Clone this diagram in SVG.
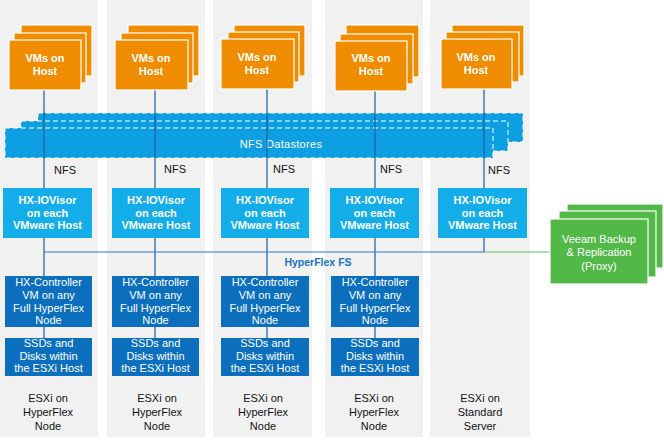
<svg xmlns="http://www.w3.org/2000/svg" width="664" height="440" viewBox="0 0 664 440">
<style>
.col{fill:#f1f1f1}
.vm{fill:#f08c00;stroke:#fff;stroke-width:1.2}
.ds{fill:#0d9fe2;stroke:#fff;stroke-width:1;stroke-dasharray:5 3}
.iov{fill:#13ade9}
.ctl{fill:#0c6fbe}
.vb{fill:#52b848;stroke:#fff;stroke-width:1.2}
.wb{font-family:"Liberation Sans",Arial,sans-serif;font-size:11px;font-weight:bold;fill:#fff;text-anchor:middle}
.wr{font-family:"Liberation Sans",Arial,sans-serif;font-size:11px;fill:#fff;text-anchor:middle}
.bk{font-family:"Liberation Sans",Arial,sans-serif;font-size:11px;fill:#111;text-anchor:middle}
.nfs{font-family:"Liberation Sans",Arial,sans-serif;font-size:11px;fill:#111}
.v{stroke:#1b5e9e;stroke-width:1.2;fill:none}
</style>
<rect width="664" height="440" fill="#fff"/>
<g id="columns">
<rect class="col" x="0" y="0" width="98" height="437"/>
<rect class="col" x="107" y="0" width="98" height="437"/>
<rect class="col" x="213" y="0" width="99" height="437"/>
<rect class="col" x="325" y="0" width="98" height="437"/>
<rect class="col" x="430" y="0" width="100" height="437"/>
</g>
<g id="datastores">
<rect class="ds" x="38" y="113" width="485" height="29"/>
<rect class="ds" x="21" y="121" width="487" height="30"/>
<rect class="ds" x="5" y="128" width="488" height="30"/>
<text x="281" y="148" class="wr" font-size="10.5" style="letter-spacing:0.3px">NFS  Datastores</text>
</g>
<g id="connectors">
<line class="v" x1="44" y1="90" x2="44" y2="188"/>
<line class="v" x1="155" y1="90" x2="155" y2="188"/>
<line class="v" x1="267" y1="89" x2="267" y2="188"/>
<line class="v" x1="375" y1="90" x2="375" y2="188"/>
<line class="v" x1="484" y1="89" x2="484" y2="188"/>
<line class="v" x1="44" y1="238" x2="44" y2="338"/>
<line class="v" x1="155" y1="238" x2="155" y2="338"/>
<line class="v" x1="267" y1="238" x2="267" y2="338"/>
<line class="v" x1="375" y1="238" x2="375" y2="338"/>
<line class="v" x1="484" y1="238" x2="484" y2="252"/>
<line x1="44" y1="252" x2="484" y2="252" stroke="#2b7fd4" stroke-width="1.2"/>
<line x1="484" y1="252" x2="550" y2="252" stroke="#5bbf55" stroke-width="1.2"/>
<text class="nfs" x="54" y="174">NFS</text>
<text class="nfs" x="164" y="173">NFS</text>
<text class="nfs" x="273" y="173">NFS</text>
<text class="nfs" x="380" y="173">NFS</text>
<text class="nfs" x="488" y="174">NFS</text>
<text x="318" y="266" font-family="'Liberation Sans',Arial,sans-serif" font-size="10.5" font-weight="bold" fill="#1b72c0" text-anchor="middle">HyperFlex FS</text>
</g>
<g id="vm1">
<rect class="vm" x="21" y="25" width="71" height="51"/>
<rect class="vm" x="14" y="33" width="72" height="50"/>
<rect class="vm" x="9" y="40" width="72" height="50"/>
<text class="wb" x="45" y="62">VMs on</text><text class="wb" x="45" y="75">Host</text>
</g>
<g id="vm2">
<rect class="vm" x="128" y="25" width="71" height="51"/>
<rect class="vm" x="121" y="33" width="72" height="50"/>
<rect class="vm" x="115" y="40" width="73" height="50"/>
<text class="wb" x="151" y="62">VMs on</text><text class="wb" x="151" y="75">Host</text>
</g>
<g id="vm3">
<rect class="vm" x="234" y="25" width="71" height="51"/>
<rect class="vm" x="228" y="32" width="71" height="50"/>
<rect class="vm" x="221" y="39" width="73" height="50"/>
<text class="wb" x="257" y="61">VMs on</text><text class="wb" x="257" y="74">Host</text>
</g>
<g id="vm4">
<rect class="vm" x="346" y="25" width="73" height="52"/>
<rect class="vm" x="340" y="34" width="73" height="50"/>
<rect class="vm" x="335" y="41" width="72" height="50"/>
<text class="wb" x="371" y="62">VMs on</text><text class="wb" x="371" y="75">Host</text>
</g>
<g id="vm5">
<rect class="vm" x="452" y="25" width="72" height="51"/>
<rect class="vm" x="446" y="32" width="73" height="50"/>
<rect class="vm" x="441" y="39" width="71" height="50"/>
<text class="wb" x="476" y="61">VMs on</text><text class="wb" x="476" y="74">Host</text>
</g>
<g id="iov1"><rect class="iov" x="3" y="188" width="89" height="50"/>
<text class="wb" x="47.5" y="204">HX-IOVisor</text><text class="wb" x="47.5" y="216.5">on each</text><text class="wb" x="47.5" y="229">VMware Host</text></g>
<g id="iov2"><rect class="iov" x="112" y="188" width="88" height="50"/>
<text class="wb" x="156" y="204">HX-IOVisor</text><text class="wb" x="156" y="216.5">on each</text><text class="wb" x="156" y="229">VMware Host</text></g>
<g id="iov3"><rect class="iov" x="221" y="188" width="88" height="50"/>
<text class="wb" x="265" y="204">HX-IOVisor</text><text class="wb" x="265" y="216.5">on each</text><text class="wb" x="265" y="229">VMware Host</text></g>
<g id="iov4"><rect class="iov" x="330" y="188" width="89" height="50"/>
<text class="wb" x="374.5" y="204">HX-IOVisor</text><text class="wb" x="374.5" y="216.5">on each</text><text class="wb" x="374.5" y="229">VMware Host</text></g>
<g id="iov5"><rect class="iov" x="438" y="188" width="89" height="50"/>
<text class="wb" x="482.5" y="204">HX-IOVisor</text><text class="wb" x="482.5" y="216.5">on each</text><text class="wb" x="482.5" y="229">VMware Host</text></g>
<g id="ctl1"><rect class="ctl" x="5" y="276" width="87" height="51"/>
<text class="wr" x="48.5" y="286">HX-Controller</text><text class="wr" x="48.5" y="299">VM  on any</text><text class="wr" x="48.5" y="311.5">Full HyperFlex</text><text class="wr" x="48.5" y="324">Node</text></g>
<g id="ctl2"><rect class="ctl" x="112" y="276" width="87" height="51"/>
<text class="wr" x="155.5" y="286">HX-Controller</text><text class="wr" x="155.5" y="299">VM  on any</text><text class="wr" x="155.5" y="311.5">Full HyperFlex</text><text class="wr" x="155.5" y="324">Node</text></g>
<g id="ctl3"><rect class="ctl" x="221" y="276" width="88" height="51"/>
<text class="wr" x="265" y="286">HX-Controller</text><text class="wr" x="265" y="299">VM  on any</text><text class="wr" x="265" y="311.5">Full HyperFlex</text><text class="wr" x="265" y="324">Node</text></g>
<g id="ctl4"><rect class="ctl" x="331" y="276" width="88" height="51"/>
<text class="wr" x="375" y="286">HX-Controller</text><text class="wr" x="375" y="299">VM  on any</text><text class="wr" x="375" y="311.5">Full HyperFlex</text><text class="wr" x="375" y="324">Node</text></g>
<g id="ssd1"><rect class="ctl" x="5" y="338" width="87" height="38"/>
<text class="wr" x="48.5" y="347">SSDs and</text><text class="wr" x="48.5" y="360">Disks within</text><text class="wr" x="48.5" y="372">the ESXi Host</text></g>
<g id="ssd2"><rect class="ctl" x="112" y="338" width="87" height="38"/>
<text class="wr" x="155.5" y="347">SSDs and</text><text class="wr" x="155.5" y="360">Disks within</text><text class="wr" x="155.5" y="372">the ESXi Host</text></g>
<g id="ssd3"><rect class="ctl" x="221" y="338" width="88" height="38"/>
<text class="wr" x="265" y="347">SSDs and</text><text class="wr" x="265" y="360">Disks within</text><text class="wr" x="265" y="372">the ESXi Host</text></g>
<g id="ssd4"><rect class="ctl" x="331" y="338" width="88" height="38"/>
<text class="wr" x="375" y="347">SSDs and</text><text class="wr" x="375" y="360">Disks within</text><text class="wr" x="375" y="372">the ESXi Host</text></g>
<g id="label1"><text class="bk" x="48" y="402">ESXi on</text><text class="bk" x="48" y="416">HyperFlex</text><text class="bk" x="48" y="430">Node</text></g>
<g id="label2"><text class="bk" x="157" y="402">ESXi on</text><text class="bk" x="157" y="416">HyperFlex</text><text class="bk" x="157" y="430">Node</text></g>
<g id="label3"><text class="bk" x="263" y="402">ESXi on</text><text class="bk" x="263" y="416">HyperFlex</text><text class="bk" x="263" y="430">Node</text></g>
<g id="label4"><text class="bk" x="374" y="402">ESXi on</text><text class="bk" x="374" y="416">HyperFlex</text><text class="bk" x="374" y="430">Node</text></g>
<g id="label5"><text class="bk" x="480" y="402">ESXi on</text><text class="bk" x="480" y="416">Standard</text><text class="bk" x="480" y="430">Server</text></g>
<g id="veeam">
<rect class="vb" x="567" y="204" width="96" height="64"/>
<rect class="vb" x="559" y="211" width="97" height="66"/>
<rect class="vb" x="550" y="219" width="98" height="65"/>
<text class="wr" x="599" y="243">Veeam Backup</text><text class="wr" x="599" y="256">&amp; Replication</text><text class="wr" x="599" y="270">(Proxy)</text>
</g>
</svg>
